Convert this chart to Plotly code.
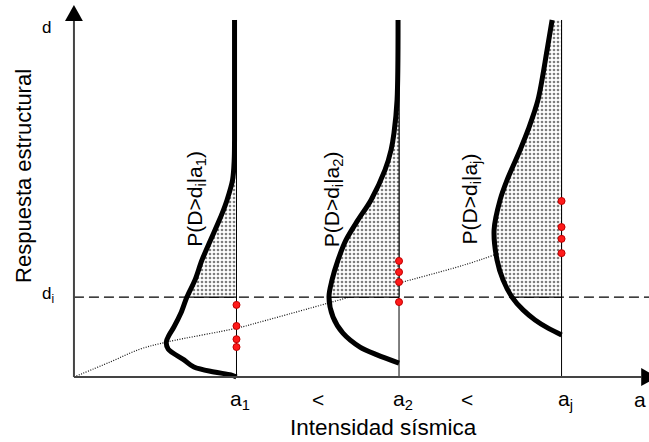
import plotly.graph_objects as go

# Intensity levels (a1 < a2 < aj) and the damage threshold d_i
intensity_levels = [1.0, 2.0, 3.0]
intensity_names = ["a<sub>1</sub>", "a<sub>2</sub>", "a<sub>j</sub>"]
prob_labels = ["P(D>d<sub>i</sub>|a<sub>1</sub>)",
               "P(D>d<sub>i</sub>|a<sub>2</sub>)",
               "P(D>d<sub>i</sub>|a<sub>j</sub>)"]
d_max = 100.0
d_i = 22.4

# Response density f(d|a) drawn sideways from each intensity level:
# response values (vertical) and density depth (horizontal, to the left)
resp_a1 = [100, 66.4, 60.8, 55.2, 49.6, 45.4, 41.2, 32.8, 27.2, 22.4, 17.9, 14.0, 11.8, 9.8, 7.8, 4.8, 2.8, 1.4, 0.6, 0]
dens_a1 = [0.012, 0.012, 0.014, 0.024, 0.058, 0.092, 0.132, 0.212, 0.255, 0.305, 0.342, 0.385, 0.414, 0.432, 0.420, 0.323, 0.262, 0.138, 0.034, 0]

resp_a2 = [100, 77.6, 68.3, 63.6, 58.0, 49.6, 44.0, 38.4, 32.8, 27.2, 22.4, 16.8, 12.3, 8.4, 6.2, 3.9]
dens_a2 = [0.006, 0.012, 0.031, 0.049, 0.086, 0.172, 0.252, 0.326, 0.375, 0.412, 0.431, 0.406, 0.345, 0.240, 0.135, 0]

resp_aj = [100, 91.6, 77.6, 69.2, 63.6, 55.2, 49.6, 41.2, 32.8, 27.2, 22.4, 18.8, 16.0, 13.7, 11.8]
dens_aj = [0.058, 0.089, 0.145, 0.206, 0.255, 0.335, 0.378, 0.415, 0.397, 0.360, 0.305, 0.237, 0.163, 0.083, 0]

responses = [resp_a1, resp_a2, resp_aj]
densities = [dens_a1, dens_a2, dens_aj]

# Median response trend versus intensity
median_int = [0, 0.222, 0.406, 0.572, 1.003, 1.145, 2.0, 2.498, 3.0]
median_resp = [0, 4.2, 7.8, 9.8, 13.7, 15.4, 26.3, 32.8, 41.7]

# Observed responses at each intensity level
obs_int = [1, 1, 1, 1, 2, 2, 2, 2, 3, 3, 3, 3]
obs_resp = [20.2, 14.3, 10.6, 8.4, 32.5, 29.4, 26.6, 21.0, 49.3, 42.0, 38.7, 34.7]

X_RANGE = [-0.455, 3.538]
Y_RANGE = [-18.2, 105.6]
FONT = "Liberation Sans, Arial, sans-serif"

fig = go.Figure()

# Vertical guide lines at each intensity level
for a in intensity_levels:
    fig.add_trace(go.Scatter(x=[a, a], y=[0, d_max], mode="lines",
                             line=dict(color="black", width=1), hoverinfo="skip"))

# Threshold d_i (dashed)
fig.add_trace(go.Scatter(x=[0, X_RANGE[1]], y=[d_i, d_i], mode="lines",
                         line=dict(color="black", width=1.2, dash="10px,5px"),
                         hoverinfo="skip"))

# Median trend (dotted)
fig.add_trace(go.Scatter(x=median_int, y=median_resp, mode="lines",
                         line=dict(color="#111111", width=1.2, dash="1px,1.5px", shape="spline"),
                         hoverinfo="skip"))

# Exceedance areas P(D>d_i|a) with stipple
for a, resp, dens in zip(intensity_levels, responses, densities):
    up_r = [r for r in resp if r >= d_i]
    up_x = [a - f for r, f in zip(resp, dens) if r >= d_i]
    # right edge, running top -> bottom like the curve segment below
    fig.add_trace(go.Scatter(x=[a, a], y=[d_max, d_i], mode="lines",
                             line=dict(color="black", width=1), hoverinfo="skip"))
    fig.add_trace(go.Scatter(x=up_x, y=up_r, mode="lines", fill="tonextx",
                             fillcolor="rgba(0,0,0,0)",
                             fillpattern=dict(shape=".", size=4, solidity=0.35,
                                              fgcolor="black", bgcolor="white"),
                             line=dict(color="rgba(0,0,0,0)", width=0, shape="spline",
                                       smoothing=0.9),
                             hoverinfo="skip"))
    # solid lower edge of the shaded area
    fig.add_trace(go.Scatter(x=[up_x[-1], a], y=[d_i, d_i], mode="lines",
                             line=dict(color="black", width=1.2), hoverinfo="skip"))

# Density curves
for a, resp, dens in zip(intensity_levels, responses, densities):
    fig.add_trace(go.Scatter(x=[a - f for f in dens], y=resp, mode="lines",
                             line=dict(color="black", width=5, shape="spline",
                                       smoothing=0.9),
                             hoverinfo="skip"))

# Observations
fig.add_trace(go.Scatter(x=obs_int, y=obs_resp, mode="markers",
                         marker=dict(color="#ff1a1a", size=7,
                                     line=dict(color="#c00000", width=1)),
                         hoverinfo="skip"))

# Axes with arrow heads
x_end, y_end = 3.49, 99.7
shapes = [
    dict(type="line", x0=0, y0=0, x1=x_end, y1=0, line=dict(color="#444444", width=2)),
    dict(type="line", x0=0, y0=0, x1=0, y1=y_end, line=dict(color="#444444", width=2)),
    dict(type="path", path=f"M {x_end} 2.5 L {x_end + 0.1} 0 L {x_end} -2.5 Z",
         fillcolor="black", line=dict(width=0)),
    dict(type="path", path=f"M -0.055 {y_end} L 0 {y_end + 4.5} L 0.055 {y_end} Z",
         fillcolor="black", line=dict(width=0)),
]

ann = []
def label(text, x, y, size, **kw):
    ann.append(dict(text=text, x=x, y=y, xref="x", yref="y", showarrow=False,
                    font=dict(family=FONT, size=size, color="black"), **kw))

for a, name in zip(intensity_levels, intensity_names):
    label(name, a, -6.4, 21, xshift=4)
label("&lt;", 1.502, -6.4, 21)
label("&lt;", 2.418, -6.4, 21)
label("a", 3.483, -6.4, 21)
label("d", -0.17, 97.8, 17)
label("d<sub>i</sub>", -0.16, 23.0, 17)
for x, t in zip([0.75, 1.59, 2.44], prob_labels):
    label(t, x, 49.9, 21, textangle=-90)
label("Intensidad sísmica", 1.902, -14.0, 22.5)
label("Respuesta estructural", -0.314, 56.3, 22, textangle=-90)

fig.update_layout(
    width=649, height=442, margin=dict(l=0, r=0, t=0, b=0),
    paper_bgcolor="white", plot_bgcolor="white", showlegend=False,
    xaxis=dict(range=X_RANGE, visible=False, fixedrange=True),
    yaxis=dict(range=Y_RANGE, visible=False, fixedrange=True),
    shapes=shapes, annotations=ann,
    font=dict(family=FONT),
)

fig.write_html("out.html")
